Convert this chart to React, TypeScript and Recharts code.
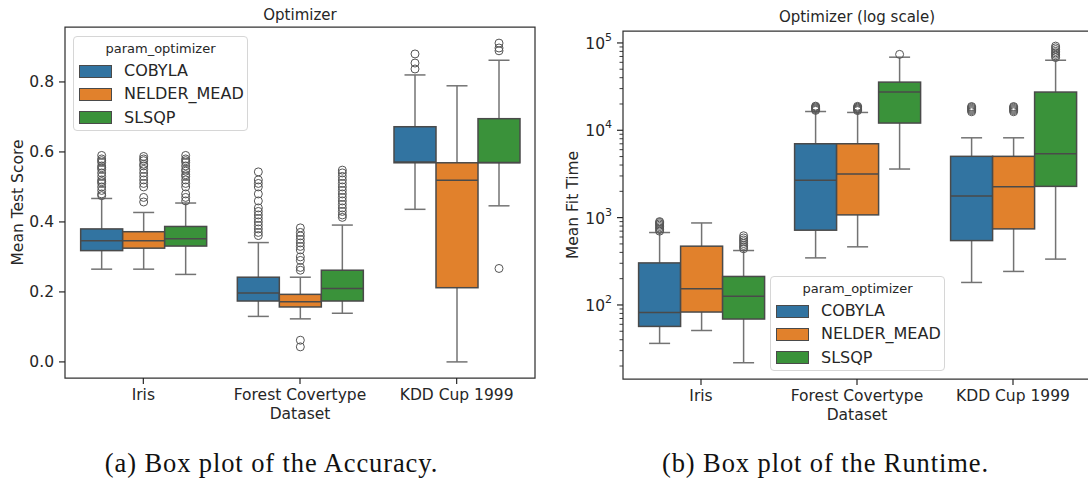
import React from 'react';
import { BarChart, Bar, XAxis, YAxis, Legend, ReferenceArea } from 'recharts';

const FONT = '"DejaVu Sans", sans-serif';
const TEXT = '#262626';
const BOX_EDGE = '#4a4a4a';
const WHISKER = '#737373';

const categories = ['Iris', 'Forest Covertype', 'KDD Cup 1999'];
const optimizers = ['COBYLA', 'NELDER_MEAD', 'SLSQP'];
const colors = ['#3274a1', '#e1812c', '#3a923a'];

// stats per category: [whiskerLow, Q1, median, Q3, whiskerHigh]
const accCobyla = [[0.265, 0.318, 0.346, 0.38, 0.467], [0.13, 0.174, 0.197, 0.242, 0.341], [0.436, 0.569, 0.571, 0.672, 0.82]];
const accNelder = [[0.265, 0.325, 0.346, 0.372, 0.427], [0.123, 0.157, 0.172, 0.193, 0.242], [0.0, 0.212, 0.519, 0.569, 0.789]];
const accSlsqp = [[0.25, 0.331, 0.352, 0.387, 0.454], [0.139, 0.174, 0.21, 0.262, 0.391], [0.446, 0.569, 0.57, 0.695, 0.862]];

const accCobylaOut = [
  [0.475, 0.48, 0.49, 0.5, 0.51, 0.515, 0.52, 0.53, 0.54, 0.55, 0.555, 0.56, 0.57, 0.575, 0.58, 0.59],
  [0.361, 0.37, 0.38, 0.39, 0.4, 0.41, 0.42, 0.43, 0.44, 0.46, 0.48, 0.5, 0.51, 0.52, 0.543],
  [0.837, 0.854, 0.88],
];
const accNelderOut = [
  [0.457, 0.47, 0.5, 0.51, 0.52, 0.53, 0.54, 0.55, 0.56, 0.565, 0.575, 0.58, 0.587],
  [0.262, 0.27, 0.29, 0.3, 0.32, 0.33, 0.34, 0.35, 0.36, 0.37, 0.383, 0.062, 0.043],
  [],
];
const accSlsqpOut = [
  [0.46, 0.47, 0.48, 0.5, 0.51, 0.52, 0.53, 0.535, 0.545, 0.55, 0.56, 0.57, 0.575, 0.58, 0.59],
  [0.413, 0.42, 0.43, 0.44, 0.45, 0.46, 0.47, 0.48, 0.49, 0.5, 0.51, 0.52, 0.53, 0.54, 0.548],
  [0.889, 0.897, 0.911, 0.267],
];

const rtCobyla = [[36.3, 56.8, 82, 303, 675], [346, 718, 2670, 7010, 16400], [181, 546, 1770, 5030, 8200]];
const rtNelder = [[51, 83, 153, 471, 869], [463, 1075, 3160, 7010, 16000], [242, 743, 2260, 5030, 8200]];
const rtSlsqp = [[21.8, 69, 126, 212, 420], [3600, 12100, 27400, 35600, 68700], [335, 2280, 5380, 27400, 63400]];

const rtCobylaOut = [
  [700, 730, 760, 790, 820, 850, 880, 900],
  [16900, 17300, 17700, 18100, 18500, 18900],
  [16300, 16800, 17300, 17800, 18300, 18700],
];
const rtNelderOut = [
  [],
  [16800, 17200, 17600, 18000, 18400, 18800],
  [16300, 16800, 17300, 17800, 18300, 18700],
];
const rtSlsqpOut = [
  [440, 460, 480, 505, 530, 555, 585, 620],
  [74000],
  [68000, 71000, 74000, 77000, 80000, 84000, 88000, 92000],
];

const accTicks = [0, 0.2, 0.4, 0.6, 0.8];
const accDomain = [-0.046, 0.957];
const rtMajorTicks = [100, 1000, 10000, 100000];
const rtMantissas = [2, 3, 4, 5, 6, 7, 8, 9];
const rtDecades = [10, 100, 1000, 10000];
const rtMinorTicks = rtDecades.flatMap((d) => rtMantissas.map((m) => m * d));
const rtDomain = [14.2, 137000];

const buildRows = (stats: number[][][], outs: number[][][]) =>
  categories.map((name, i) => {
    const row: any = { name };
    optimizers.forEach((o, k) => {
      row[o] = { s: stats[k][i], o: outs[k][i] };
    });
    return row;
  });

const accRows = buildRows([accCobyla, accNelder, accSlsqp], [accCobylaOut, accNelderOut, accSlsqpOut]);
const rtRows = buildRows([rtCobyla, rtNelder, rtSlsqp], [rtCobylaOut, rtNelderOut, rtSlsqpOut]);

const boxShape = (key: string, log: boolean) => (props: any) => {
  const { x, y, width, height, payload, fill } = props;
  const entry = payload && payload[key];
  if (!entry) return null;
  const [lo, q1, med, q3, hi] = entry.s;
  const top = Math.min(y, y + height);
  const bot = Math.max(y, y + height);
  const f = (v: number) => (log ? Math.log10(v) : v);
  const a = f(lo);
  const b = f(hi);
  const py = (v: number) => bot - ((f(v) - a) / (b - a)) * (bot - top);
  const cx = x + width / 2;
  const capHalf = width / 4;
  const yq1 = py(q1);
  const yq3 = py(q3);
  return (
    <g>
      <line x1={cx} x2={cx} y1={yq3} y2={py(hi)} stroke={WHISKER} strokeWidth={1.5} />
      <line x1={cx} x2={cx} y1={yq1} y2={py(lo)} stroke={WHISKER} strokeWidth={1.5} />
      <line x1={cx - capHalf} x2={cx + capHalf} y1={py(hi)} y2={py(hi)} stroke={WHISKER} strokeWidth={1.5} />
      <line x1={cx - capHalf} x2={cx + capHalf} y1={py(lo)} y2={py(lo)} stroke={WHISKER} strokeWidth={1.5} />
      <rect x={x} y={yq3} width={width} height={Math.max(0.5, yq1 - yq3)} fill={fill} stroke={BOX_EDGE} strokeWidth={1.5} />
      <line x1={x} x2={x + width} y1={py(med)} y2={py(med)} stroke={BOX_EDGE} strokeWidth={1.5} />
      {entry.o.map((v: number, i: number) => (
        <circle key={i} cx={cx} cy={py(v)} r={4} fill="none" stroke="#555555" strokeWidth={1} />
      ))}
    </g>
  );
};

const LegendBox = (props: any) => {
  const payload = props.payload || [];
  return (
    <div
      style={{
        width: 175,
        height: 95,
        boxSizing: 'border-box',
        border: '1px solid #d6d6d6',
        borderRadius: 4,
        background: 'rgba(255,255,255,0.85)',
        position: 'relative',
        fontFamily: FONT,
        color: TEXT,
      }}
    >
      <div style={{ position: 'absolute', left: 0, right: 0, top: 3, textAlign: 'center', fontSize: 13, lineHeight: '17px' }}>
        param_optimizer
      </div>
      {payload.map((p: any, i: number) => (
        <div
          key={i}
          style={{ position: 'absolute', left: 5, top: 25 + i * 23.4, height: 18, display: 'flex', alignItems: 'center', whiteSpace: 'nowrap' }}
        >
          <span
            style={{
              width: 33,
              height: 13,
              background: p.color,
              border: `1.2px solid ${BOX_EDGE}`,
              boxSizing: 'border-box',
              display: 'inline-block',
            }}
          />
          <span style={{ marginLeft: 12, fontSize: 16, lineHeight: '18px' }}>{p.value}</span>
        </div>
      ))}
    </div>
  );
};

const LogTick = (props: any) => {
  const { x, y, payload } = props;
  const v = payload.value;
  const e = Math.round(Math.log10(v));
  const major = Math.abs(Math.pow(10, e) - v) < 1e-6 * v;
  return (
    <g>
      <line x1={x - (major ? 6 : 3.5)} x2={x} y1={y} y2={y} stroke={TEXT} strokeWidth={major ? 1.2 : 0.9} />
      {major && (
        <text x={x - 11} y={y + 1} textAnchor="end" dominantBaseline="central" fontSize={15.5} fill={TEXT} fontFamily={FONT}>
          10
          <tspan dy={-7} fontSize={11}>
            {e}
          </tspan>
        </text>
      )}
    </g>
  );
};

const tickStyle = { fontSize: 15.5, fill: TEXT, fontFamily: FONT };
const labelStyle = { fontSize: 15.5, fill: TEXT, fontFamily: FONT };

const Title = ({ text, cx, cy }: { text: string; cx: number; cy: number }) => (
  <div
    style={{
      position: 'absolute',
      left: cx - 150,
      top: cy - 9,
      width: 300,
      textAlign: 'center',
      fontSize: 15,
      lineHeight: '18px',
      fontFamily: FONT,
      color: TEXT,
    }}
  >
    {text}
  </div>
);

const Caption = ({ text, cx, cy }: { text: string; cx: number; cy: number }) => (
  <div
    style={{
      position: 'absolute',
      left: cx - 250,
      top: cy - 16,
      width: 500,
      textAlign: 'center',
      fontSize: 26.5,
      lineHeight: '32px',
      letterSpacing: 0.9,
      fontFamily: '"Liberation Serif", serif',
      color: '#111',
    }}
  >
    {text}
  </div>
);

export default function App() {
  return (
    <div style={{ position: 'absolute', left: 0, top: 0, width: 1088, height: 482, overflow: 'hidden', background: '#fff' }}>
      <div style={{ position: 'absolute', left: 0, top: 0 }}>
        <BarChart width={545} height={432} data={accRows} margin={{ top: 27, right: 10, bottom: 0, left: 0 }} barCategoryGap="10%" barGap={0}>
          <XAxis
            dataKey="name"
            height={54}
            axisLine={false}
            tickLine={{ stroke: TEXT, strokeWidth: 1.2 }}
            tickSize={6}
            tickMargin={5}
            tick={tickStyle}
            interval={0}
            label={{ value: 'Dataset', position: 'insideBottom', offset: 13, style: labelStyle }}
          />
          <YAxis
            type="number"
            domain={accDomain}
            allowDataOverflow
            ticks={accTicks}
            tickFormatter={(v: number) => v.toFixed(1)}
            width={65}
            axisLine={false}
            tickLine={{ stroke: TEXT, strokeWidth: 1.2 }}
            tickSize={6}
            tickMargin={5}
            tick={tickStyle}
            label={{ value: 'Mean Test Score', angle: -90, position: 'insideLeft', offset: 17, style: { ...labelStyle, textAnchor: 'middle' } }}
          />
          {optimizers.map((o, k) => (
            <Bar
              key={o}
              name={o}
              dataKey={(d: any) => [d[o].s[0], d[o].s[4]]}
              fill={colors[k]}
              shape={boxShape(o, false)}
              isAnimationActive={false}
            />
          ))}
          <ReferenceArea y1={accDomain[0]} y2={accDomain[1]} fill="none" stroke="#333" strokeWidth={1.25} ifOverflow="visible" />
          <Legend content={<LegendBox />} layout="horizontal" verticalAlign="middle" align="center" wrapperStyle={{ left: 73, top: 36, width: 'auto', height: 'auto' }} />
        </BarChart>
      </div>
      <div style={{ position: 'absolute', left: 545, top: 0 }}>
        <BarChart width={560} height={432} data={rtRows} margin={{ top: 31, right: 14, bottom: 0, left: 0 }} barCategoryGap="10%" barGap={0}>
          <XAxis
            dataKey="name"
            height={53}
            axisLine={false}
            tickLine={{ stroke: TEXT, strokeWidth: 1.2 }}
            tickSize={6}
            tickMargin={5}
            tick={tickStyle}
            interval={0}
            label={{ value: 'Dataset', position: 'insideBottom', offset: 12, style: labelStyle }}
          />
          <YAxis
            type="number"
            scale="log"
            domain={rtDomain}
            allowDataOverflow
            ticks={[...rtMinorTicks, ...rtMajorTicks]}
            width={78}
            axisLine={false}
            tickLine={false}
            tickSize={0}
            tickMargin={0}
            tick={<LogTick />}
            interval={0}
            label={{ value: 'Mean Fit Time', angle: -90, position: 'insideLeft', offset: 27, style: { ...labelStyle, textAnchor: 'middle' } }}
          />
          {optimizers.map((o, k) => (
            <Bar
              key={o}
              name={o}
              dataKey={(d: any) => [d[o].s[0], d[o].s[4]]}
              fill={colors[k]}
              shape={boxShape(o, true)}
              isAnimationActive={false}
            />
          ))}
          <ReferenceArea y1={rtDomain[0]} y2={rtDomain[1]} fill="none" stroke="#333" strokeWidth={1.25} ifOverflow="visible" />
          <Legend content={<LegendBox />} layout="horizontal" verticalAlign="middle" align="center" wrapperStyle={{ left: 225, top: 276, width: 'auto', height: 'auto' }} />
        </BarChart>
      </div>
      <Title text="Optimizer" cx={300} cy={15} />
      <Title text="Optimizer (log scale)" cx={857} cy={17} />
      <Caption text="(a) Box plot of the Accuracy." cx={271.5} cy={463} />
      <Caption text="(b) Box plot of the Runtime." cx={825.5} cy={463} />
    </div>
  );
}
